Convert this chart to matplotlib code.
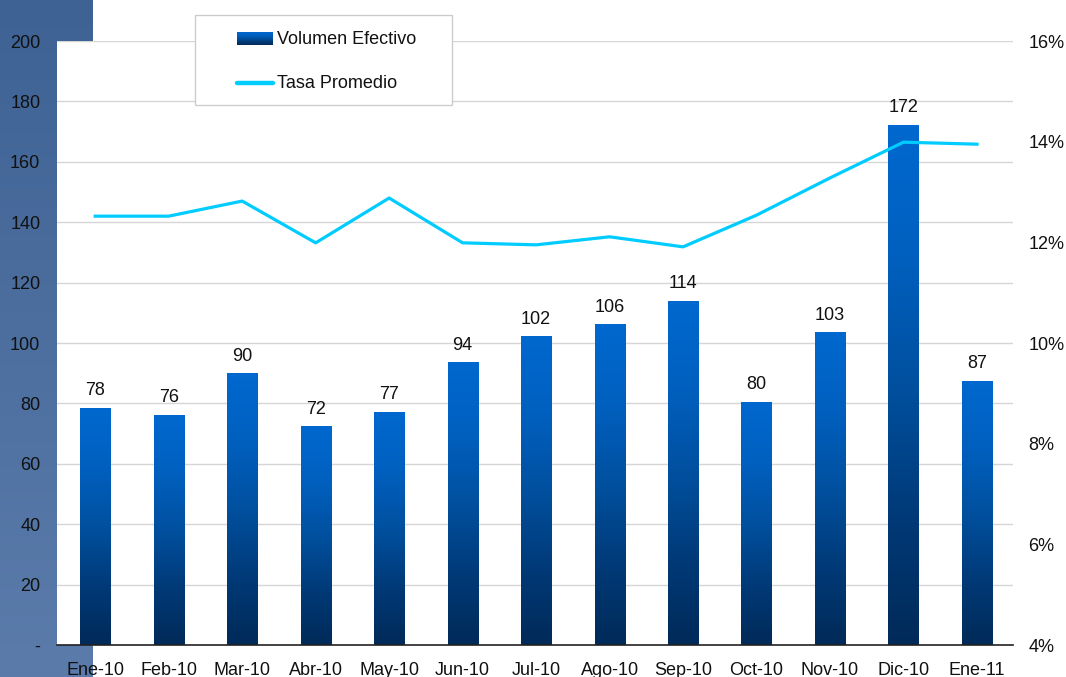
import numpy as np
import matplotlib
matplotlib.use("Agg")
import matplotlib.pyplot as plt
from matplotlib.colors import LinearSegmentedColormap
from matplotlib.patches import Rectangle
from matplotlib.lines import Line2D

plt.rcParams['font.family'] = ['Liberation Sans', 'DejaVu Sans']

# Data
months = ['Ene-10', 'Feb-10', 'Mar-10', 'Abr-10', 'May-10', 'Jun-10', 'Jul-10',
          'Ago-10', 'Sep-10', 'Oct-10', 'Nov-10', 'Dic-10', 'Ene-11']
volumen = [78.3, 76.0, 89.8, 72.3, 77.0, 93.5, 102.0, 106.0, 113.8, 80.4, 103.4, 172.0, 87.3]
tasa = [12.52, 12.52, 12.82, 11.99, 12.88, 11.99, 11.95, 12.11, 11.91, 12.54, 13.28, 13.99, 13.95]
left_ticks = [0, 20, 40, 60, 80, 100, 120, 140, 160, 180, 200]
left_labels = ['-'] + [str(t) for t in left_ticks[1:]]
right_ticks = [4, 6, 8, 10, 12, 14, 16]
series_names = ['Volumen Efectivo', 'Tasa Promedio']

W, H = 1066, 677
fig = plt.figure(figsize=(W / 100, H / 100), dpi=100)

def fx(px):
    return px / W

def fy(py):
    return 1 - py / H

# blue strip on the left of the slide
bg = fig.add_axes([0, 0, fx(93), 1], zorder=0)
grad_bg = np.linspace(0, 1, 256).reshape(-1, 1)
bg_cmap = LinearSegmentedColormap.from_list('bg', ['#5b7cab', '#3e6294'])
bg.imshow(grad_bg, aspect='auto', cmap=bg_cmap, origin='lower', extent=[0, 1, 0, 1])
bg.set_axis_off()

ax = fig.add_axes([fx(57), fy(645), fx(1013 - 57), (645 - 41) / H], zorder=1)
ax.set_facecolor('white')
x = np.arange(len(months))

bar_cmap = LinearSegmentedColormap.from_list(
    'bars', [(0, '#012a58'), (0.25, '#003a78'), (0.5, '#00509f'), (0.75, '#0060bf'), (1, '#0068cf')])
bars = ax.bar(x, volumen, width=0.41, color='none', zorder=2)
grad = np.linspace(0, 1, 256).reshape(-1, 1)
for b, v in zip(bars, volumen):
    x0 = b.get_x()
    ax.imshow(grad, aspect='auto', cmap=bar_cmap, origin='lower',
              extent=[x0, x0 + b.get_width(), 0, v], zorder=2)
    ax.text(b.get_x() + b.get_width() / 2, v + 3, f'{v:.0f}', ha='center', va='bottom',
            fontsize=13, color='#111111', zorder=4)

ax.set_xlim(-0.52, 12.49)
ax.set_ylim(0, 200)
ax.set_yticks(left_ticks)
ax.set_yticklabels(left_labels)
ax.set_xticks(x)
ax.set_xticklabels(months)
ax.yaxis.grid(True, color='#d6d6d6', linewidth=1)
ax.set_axisbelow(True)
for s in ['left', 'right', 'top']:
    ax.spines[s].set_visible(False)
ax.spines['bottom'].set_color('#222222')
ax.spines['bottom'].set_linewidth(1.2)
ax.tick_params(axis='both', length=0, labelsize=13, colors='#111111')
ax.tick_params(axis='x', pad=12)
ax.tick_params(axis='y', pad=12)

ax2 = ax.twinx()
ax2.plot(x, tasa, color='#00ccff', linewidth=2.3, zorder=3)
ax2.set_ylim(4, 16)
ax2.set_yticks(right_ticks)
ax2.set_yticklabels([f'{t}%' for t in right_ticks])
for s in ax2.spines.values():
    s.set_visible(False)
ax2.tick_params(axis='y', length=0, labelsize=13, colors='#111111', pad=11)

# legend box drawn by hand
fig.patches.append(Rectangle((fx(195), fy(105)), fx(452 - 195), (105 - 15) / H,
                             transform=fig.transFigure, facecolor='white',
                             edgecolor='#cccccc', linewidth=1, zorder=5))
lg = fig.add_axes([fx(237), fy(45), fx(36), 13 / H], zorder=6)
lg.imshow(grad, aspect='auto', cmap=bar_cmap, origin='lower', extent=[0, 1, 0, 1])
lg.set_axis_off()
fig.lines.append(Line2D([fx(237), fx(273)], [fy(83), fy(83)], transform=fig.transFigure,
                        color='#00ccff', linewidth=3.2, solid_capstyle='round', zorder=6))
fig.text(fx(277), fy(39), series_names[0], fontsize=13, color='#111111', va='center', zorder=7)
fig.text(fx(277), fy(83), series_names[1], fontsize=13, color='#111111', va='center', zorder=7)

fig.savefig('out.png', dpi=100)
